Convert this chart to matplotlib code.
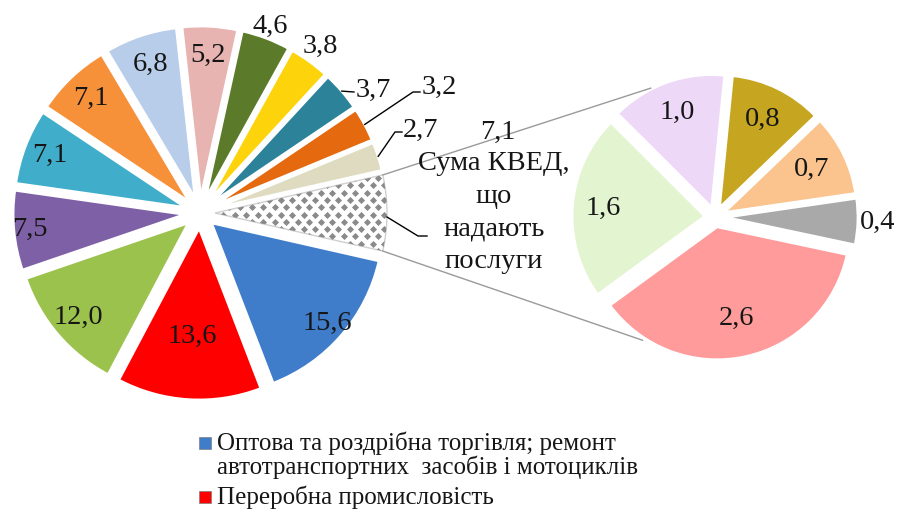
import numpy as np
import matplotlib
matplotlib.use("Agg")
import matplotlib.pyplot as plt
from matplotlib.patches import Rectangle

# ---------------- data ----------------
main_values = [15.6, 13.6, 12.0, 7.5, 7.1, 7.1, 6.8, 5.2, 4.6, 3.8, 3.7, 3.2, 2.7]
main_labels = ['15,6', '13,6', '12,0', '7,5', '7,1', '7,1', '6,8', '5,2', '4,6', '3,8', '3,7', '3,2', '2,7']
services_value = 7.1
services_label = '7,1'
services_text = ['Сума КВЕД,', 'що', 'надають', 'послуги']
sub_values = [2.6, 1.6, 1.0, 0.8, 0.7, 0.4]
sub_labels = ['2,6', '1,6', '1,0', '0,8', '0,7', '0,4']
legend_entries = ['Оптова та роздрібна торгівля; ремонт\nавтотранспортних  засобів і мотоциклів',
                  'Переробна промисловість']

# ---------------- style ----------------
main_colors = ['#3F7DCB', '#FF0000', '#9CC24E', '#7E60A6', '#40AECB', '#F6913A', '#B8CDE9',
               '#E8B4B2', '#5B7B2B', '#FDD40B', '#2C8399', '#E5690F', '#DFDBC1']
sub_colors = ['#FF9B9B', '#E3F4D0', '#EDD8F8', '#C6A621', '#FBC38D', '#A9A9A9']

plt.rcParams['font.family'] = ['Liberation Serif', 'DejaVu Serif']
FS = 20.5
TXT = '#161616'

W, H = 898, 523
fig = plt.figure(figsize=(W / 100, H / 100), dpi=100)
ax = fig.add_axes([0, 0, 1, 1])


def P(x, y):
    return (x, H - y)


# left pie
lc = P(200, 213)
lr = 172
le = 15
total = services_value + sum(main_values)
wl, _ = ax.pie([services_value] + main_values, colors=['white'] + main_colors,
               startangle=180 * services_value / total, counterclock=False,
               center=lc, radius=lr, explode=[le] * (len(main_values) + 1),
               wedgeprops=dict(edgecolor='white', linewidth=2))
serv_w = wl[0]
serv_w.set_edgecolor('#d0d0d0')
serv_w.set_linewidth(1.0)

# diamond pattern inside services wedge
xs, ys = [], []
x0, x1 = lc[0], lc[0] + lr + le + 5
y0, y1 = lc[1] - 60, lc[1] + 60
row = 0
yy = y0
while yy < y1:
    off = 5.75 if row % 2 else 0
    xx = x0 + off
    while xx < x1:
        xs.append(xx); ys.append(yy)
        xx += 11.5
    yy += 7.3
    row += 1
sc = ax.scatter(xs, ys, marker='D', s=13, color='#8a8a8a', linewidths=0, zorder=3)
sc.set_clip_path(serv_w)

# right pie
rc = P(715, 217)
rr = 133
re_ = 10
wr, _ = ax.pie(sub_values, colors=sub_colors, startangle=-12, counterclock=False,
               center=rc, radius=rr, explode=[re_] * len(sub_values),
               wedgeprops=dict(edgecolor='white', linewidth=2))

ax.set_xlim(0, W)
ax.set_ylim(0, H)
ax.set_aspect('equal')
ax.axis('off')


def mid(w):
    return np.deg2rad((w.theta1 + w.theta2) / 2)


# labels left pie
main_label_dist = [168, 124, 160, 171, 161, 158, 157, 158, 199, 206]
for w, lab, d in zip(wl[1:], main_labels, main_label_dist):
    a = mid(w)
    ax.text(lc[0] + d * np.cos(a), lc[1] + d * np.sin(a), lab, fontsize=FS,
            ha='center', va='center', color=TXT, zorder=5)

# leader labels
leaders = [
    (10, (373, 90), [(354, 92)]),
    (11, (439, 87), [(413, 92), (420, 92)]),
    (12, (421, 130), [(395, 132), (402, 132)]),
]
for idx, tpos, path in leaders:
    w = wl[1 + idx]
    a = mid(w)
    sx = w.center[0] + w.r * np.cos(a)
    sy = w.center[1] + w.r * np.sin(a)
    pts = [(sx, sy)] + [P(*p) for p in path]
    ax.plot([p[0] for p in pts], [p[1] for p in pts], color='black', lw=1, zorder=4)
    ax.text(*P(*tpos), main_labels[idx], fontsize=FS, ha='center', va='center',
            color=TXT, zorder=5)

# services label
a = mid(serv_w)
sx = serv_w.center[0] + serv_w.r * np.cos(a)
sy = serv_w.center[1] + serv_w.r * np.sin(a) - 4
pts = [(sx, sy), P(418, 236), P(427, 236)]
ax.plot([p[0] for p in pts], [p[1] for p in pts], color='black', lw=1, zorder=4)
ax.text(*P(498, 132), services_label, fontsize=FS, ha='center', va='center', color=TXT)
for i, line in enumerate(services_text):
    ax.text(*P(494, 164 + 32.5 * i), line, fontsize=FS, ha='center', va='center', color=TXT)

# right pie labels
sub_label_dist = [104, 112, 111, 109, 108, 163]
for w, lab, d in zip(wr, sub_labels, sub_label_dist):
    a = mid(w)
    ax.text(rc[0] + d * np.cos(a), rc[1] + d * np.sin(a), lab, fontsize=FS,
            ha='center', va='center', color=TXT, zorder=5)

# connector lines
t1, t2 = np.deg2rad(serv_w.theta1), np.deg2rad(serv_w.theta2)
top_l = (serv_w.center[0] + serv_w.r * np.cos(t2), serv_w.center[1] + serv_w.r * np.sin(t2))
bot_l = (serv_w.center[0] + serv_w.r * np.cos(t1), serv_w.center[1] + serv_w.r * np.sin(t1))
ta, ba = np.deg2rad(116.5), np.deg2rad(-120.5)
top_r = (rc[0] + (rr + re_ + 1) * np.cos(ta), rc[1] + (rr + re_ + 1) * np.sin(ta))
bot_r = (rc[0] + (rr + re_) * np.cos(ba), rc[1] + (rr + re_) * np.sin(ba))
ax.plot([top_l[0], top_r[0]], [top_l[1], top_r[1]], color='#9a9a9a', lw=1, zorder=1)
ax.plot([bot_l[0], bot_r[0]], [bot_l[1], bot_r[1]], color='#9a9a9a', lw=1, zorder=1)

# legend (manual)
LFS = 18
leg_y = [443, 497]
for w, entry, y in zip([wl[1], wl[2]], legend_entries, leg_y):
    ax.add_patch(Rectangle(P(199, y + 6), 12, 12, facecolor=w.get_facecolor(),
                           edgecolor='#7f7f7f', lw=0.5))
    for j, line in enumerate(entry.split('\n')):
        ax.text(*P(217, y + 24.5 * j), line, fontsize=LFS, ha='left', va='center', color=TXT)

fig.savefig('out.png', dpi=100)
